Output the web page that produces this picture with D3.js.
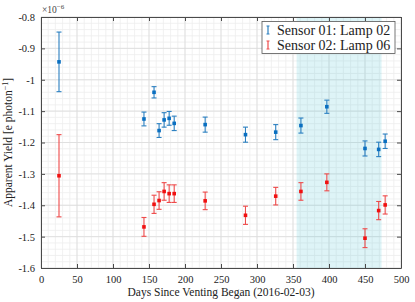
<!DOCTYPE html>
<html>
<head>
<meta charset="utf-8">
<script src="https://cdn.jsdelivr.net/npm/d3@7"></script>
<style>
  body { margin: 0; background: #fff; }
  text { font-family: "Liberation Serif", "DejaVu Serif", serif; fill: #222; }
</style>
</head>
<body>
<div id="root"></div>
<script>
// days since venting, same for both sensors
var days = [25, 143, 157, 164, 171, 178, 185, 228, 284, 326, 361, 397, 450, 469, 478];
// values in units of 1e-6
var s1Mean = [-0.943, -1.125, -1.040, -1.162, -1.128, -1.123, -1.139, -1.143, -1.175, -1.167, -1.146, -1.086, -1.219, -1.222, -1.196];
var s1Err = [0.095, 0.022, 0.018, 0.022, 0.023, 0.022, 0.023, 0.024, 0.024, 0.024, 0.024, 0.021, 0.024, 0.023, 0.023];
var s2Mean = [-1.306, -1.469, -1.397, -1.385, -1.356, -1.363, -1.363, -1.386, -1.432, -1.371, -1.356, -1.327, -1.505, -1.417, -1.399];
var s2Err = [0.131, 0.030, 0.029, 0.028, 0.028, 0.028, 0.028, 0.028, 0.029, 0.028, 0.028, 0.027, 0.030, 0.029, 0.029];
var seriesNames = ["Sensor 01: Lamp 02", "Sensor 02: Lamp 06"];
var shadeRange = [355, 473];
var xTicks = [0, 50, 100, 150, 200, 250, 300, 350, 400, 450, 500];
var yTicks = [-0.8, -0.9, -1, -1.1, -1.2, -1.3, -1.4, -1.5, -1.6];

var w = 415, h = 302;
var m = {left: 41, right: 14, top: 17, bottom: 34};
var svg = d3.select("#root").append("svg").attr("width", w).attr("height", h);

var x = d3.scaleLinear().domain([0, 500]).range([m.left, w - m.right]);
var y = d3.scaleLinear().domain([-1.6, -0.8]).range([h - m.bottom, m.top]);

// grid - minor then major
var g = svg.append("g");
g.selectAll(".xmin").data(d3.range(0, 501, 10)).enter().append("line")
  .attr("x1", d => x(d)).attr("x2", d => x(d)).attr("y1", y(-1.6)).attr("y2", y(-0.8))
  .style("stroke", "#ededed").style("stroke-width", 0.8);
g.selectAll(".ymin").data(d3.range(-1.6, -0.79, 0.02)).enter().append("line")
  .attr("y1", d => y(d)).attr("y2", d => y(d)).attr("x1", x(0)).attr("x2", x(500))
  .style("stroke", "#ededed").style("stroke-width", 0.8);
g.selectAll(".xmaj").data(xTicks).enter().append("line")
  .attr("x1", d => x(d)).attr("x2", d => x(d)).attr("y1", y(-1.6)).attr("y2", y(-0.8))
  .style("stroke", "#dcdcdc").style("stroke-width", 0.8);
g.selectAll(".ymaj").data(yTicks).enter().append("line")
  .attr("y1", d => y(d)).attr("y2", d => y(d)).attr("x1", x(0)).attr("x2", x(500))
  .style("stroke", "#dcdcdc").style("stroke-width", 0.8);

// shaded window
svg.append("rect")
  .attr("x", x(shadeRange[0])).attr("width", x(shadeRange[1]) - x(shadeRange[0]))
  .attr("y", y(-0.8)).attr("height", y(-1.6) - y(-0.8))
  .style("fill", "#5cc8d8").style("opacity", 0.2);

// axes (box with inward ticks)
var axStyle = function(sel) {
  sel.select(".domain").style("stroke", "#4a4a4a");
  sel.selectAll(".tick line").style("stroke", "#4a4a4a");
  sel.selectAll("text").style("font-family", "'Liberation Serif', serif").style("font-size", "10.5px").style("fill", "#222");
};
svg.append("g").attr("transform", "translate(0," + y(-1.6) + ")")
  .call(d3.axisBottom(x).tickValues(xTicks).tickSize(-4).tickPadding(8).tickSizeOuter(0))
  .call(axStyle);
svg.append("g").attr("transform", "translate(0," + y(-0.8) + ")")
  .call(d3.axisTop(x).tickValues(xTicks).tickSize(-4).tickFormat("").tickSizeOuter(0))
  .call(axStyle);
svg.append("g").attr("transform", "translate(" + x(0) + ",0)")
  .call(d3.axisLeft(y).tickValues(yTicks).tickSize(-4).tickPadding(6).tickSizeOuter(0).tickFormat(d => String(d)))
  .call(axStyle);
svg.append("g").attr("transform", "translate(" + x(500) + ",0)")
  .call(d3.axisRight(y).tickValues(yTicks).tickSize(-4).tickFormat("").tickSizeOuter(0))
  .call(axStyle);

// error bars
function drawSeries(mean, err, color, barColor) {
  var s = svg.append("g");
  var pts = days.map((d, i) => ({d: d, v: mean[i], e: err[i]}));
  s.selectAll(".bar").data(pts).enter().append("line")
    .attr("x1", p => x(p.d)).attr("x2", p => x(p.d))
    .attr("y1", p => y(p.v + p.e)).attr("y2", p => y(p.v - p.e))
    .style("stroke", barColor).style("stroke-width", 1.1);
  [1, -1].forEach(function(sg) {
    s.selectAll(".cap" + sg).data(pts).enter().append("line")
      .attr("x1", p => x(p.d) - 2.5).attr("x2", p => x(p.d) + 2.5)
      .attr("y1", p => y(p.v + sg * p.e)).attr("y2", p => y(p.v + sg * p.e))
      .style("stroke", barColor).style("stroke-width", 1.1);
  });
  s.selectAll("rect").data(pts).enter().append("rect")
    .attr("x", p => x(p.d) - 1.8).attr("y", p => y(p.v) - 1.8)
    .attr("width", 3.6).attr("height", 3.6).style("fill", color);
}
drawSeries(s1Mean, s1Err, "#0a6fc0", "#2a7fc0");
drawSeries(s2Mean, s2Err, "#f01010", "#ee4a4a");

// legend
var lg = svg.append("g");
lg.append("rect").attr("x", 262).attr("y", 21.5).attr("width", 133).attr("height", 32)
  .style("fill", "#fff").style("stroke", "#555").style("stroke-width", 0.8);
var legColors = ["#2a7fc0", "#ee4a4a"];
seriesNames.forEach(function(n, i) {
  var cy = 30 + i * 15;
  lg.append("line").attr("x1", 268).attr("x2", 268).attr("y1", cy - 4).attr("y2", cy + 4)
    .style("stroke", legColors[i]).style("stroke-width", 1.2);
  lg.append("line").attr("x1", 266.5).attr("x2", 269.5).attr("y1", cy - 4).attr("y2", cy - 4)
    .style("stroke", legColors[i]).style("stroke-width", 1);
  lg.append("line").attr("x1", 266.5).attr("x2", 269.5).attr("y1", cy + 4).attr("y2", cy + 4)
    .style("stroke", legColors[i]).style("stroke-width", 1);
  lg.append("text").attr("x", 277).attr("y", cy + 4.5).text(n)
    .style("font-size", "14px");
});

// labels
svg.append("text").attr("x", x(250)).attr("y", 296).attr("text-anchor", "middle")
  .style("font-size", "11.5px").text("Days Since Venting Began (2016-02-03)");
var yl = svg.append("text").attr("transform", "translate(12," + ((y(-0.8) + y(-1.6)) / 2) + ") rotate(-90)")
  .attr("text-anchor", "middle").style("font-size", "11.5px");
yl.append("tspan").text("Apparent Yield [e photon");
yl.append("tspan").attr("dy", -4).style("font-size", "8px").text("\u22121");
yl.append("tspan").attr("dy", 4).text("]");
var ex = svg.append("text").attr("x", 42).attr("y", 13).style("font-size", "9.5px").style("fill", "#444");
ex.append("tspan").text("\u00d710");
ex.append("tspan").attr("dy", -4).style("font-size", "7px").text("\u22126");
</script>
</body>
</html>
